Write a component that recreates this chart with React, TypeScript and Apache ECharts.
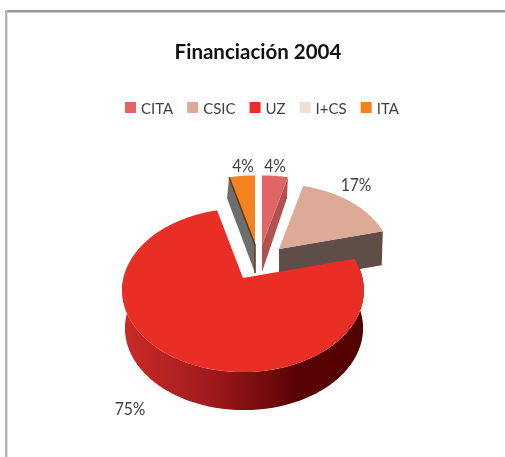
import React, { useEffect, useRef } from "react";
import * as echarts from "echarts";

const TITLE = "Financiación 2004";
const categories = ["CITA", "CSIC", "UZ", "I+CS", "ITA"];
const shares = [4, 17, 75, 0, 4];
const colors = ["#e06666", "#dcaa96", "#e92e26", "#eee0d5", "#f58220"];

const FONT = 'Lato, "Liberation Sans", sans-serif';
const RX = 119.5;
const RY = 80;
const PERSPECTIVE = 0.15;

type Layout = {
  tip: number[]; scale: number; z: number; depthTip: number; depthOuter: number;
  cut: "start" | "end" | "wall" | null; wall: string; label: number[]; edge?: string;
};
const layouts: Record<string, Layout> = {
  CITA: { tip: [262, 245], scale: 1, z: 3, depthTip: 27, depthOuter: 21, cut: "end", wall: "#b05050", label: [275, 165] },
  CSIC: { tip: [279, 249], scale: 0.93, z: 4, depthTip: 34, depthOuter: 34, cut: "end", wall: "#5f4d47", label: [356, 184] },
  UZ: { tip: [243, 278], scale: 1, z: 5, depthTip: 38, depthOuter: 38, cut: "wall", wall: "", label: [130, 408] },
  "I+CS": { tip: [255, 245], scale: 1, z: 1, depthTip: 0, depthOuter: 0, cut: null, wall: "", label: [0, 0] },
  ITA: { tip: [255, 245], scale: 1, z: 2, depthTip: 28, depthOuter: 21, cut: "start", wall: "#6e6e6e", label: [243, 165], edge: "#5c3a12" },
};

const total = shares.reduce((a, b) => a + b, 0);
const startAngles = shares.map((_, i) =>
  (shares.slice(0, i).reduce((a, b) => a + b, 0) / total) * Math.PI * 2);

function project(l: Layout, a: number, r = 1) {
  const x = Math.sin(a) * r;
  const y = Math.cos(a) * r;
  const w = 1 + PERSPECTIVE * y;
  return [l.tip[0] + (l.scale * RX * x) / w, l.tip[1] - (l.scale * RY * y) / w];
}

function arcPoints(l: Layout, a0: number, a1: number) {
  const n = Math.max(2, Math.ceil(Math.abs(a1 - a0) / 0.02));
  const pts: number[][] = [];
  for (let i = 0; i <= n; i++) pts.push(project(l, a0 + ((a1 - a0) * i) / n));
  return pts;
}

function renderSlice(index: number) {
  return (_params: any, api: any) => {
    const value = api.value(0);
    if (!value) return { type: "group", children: [] };
    const name = categories[index];
    const l = layouts[name];
    const a0 = startAngles[index];
    const a1 = a0 + (value / total) * Math.PI * 2;
    const children: any[] = [];

    if (l.cut === "wall") {
      const from = Math.max(a0, Math.PI * 0.44);
      const to = Math.min(a1, Math.PI * 1.56);
      const top = arcPoints(l, from, to);
      const bottom = top
        .map((p) => [l.tip[0] + 1 + (p[0] - l.tip[0]) * 0.985, p[1] + l.depthOuter])
        .reverse();
      children.push({
        type: "polygon",
        shape: { points: top.concat(bottom) },
        style: {
          fill: new echarts.graphic.LinearGradient(0, 0, 1, 0, [
            { offset: 0, color: "#cb2b27" },
            { offset: 0.35, color: "#a31a1e" },
            { offset: 0.72, color: "#5a0304" },
            { offset: 1, color: "#520000" },
          ]),
        },
      });
    } else if (l.cut) {
      const outer = project(l, l.cut === "end" ? a1 : a0);
      children.push({
        type: "polygon",
        shape: {
          points: [l.tip, outer, [outer[0] - (l.cut === "end" ? 1 : 2), outer[1] + l.depthOuter], [l.tip[0], l.tip[1] + l.depthTip]],
        },
        style: { fill: l.wall },
      });
    }

    children.push({
      type: "polygon",
      shape: { points: [l.tip].concat(arcPoints(l, a0, a1)) },
      style: { fill: colors[index] },
    });

    if (l.edge) {
      children.push({
        type: "polyline",
        shape: { points: [project(l, a0), l.tip, [l.tip[0], l.tip[1] + l.depthTip]] },
        style: { stroke: l.edge, lineWidth: 1.5, fill: "none" },
      });
    }

    children.push({
      type: "text",
      x: l.label[0],
      y: l.label[1],
      scaleX: 0.87,
      style: {
        text: Math.round((value / total) * 100) + "%",
        x: 0, y: 0,
        align: "center", verticalAlign: "middle",
        font: "18px " + FONT, fill: "#404040",
      },
    });
    return { type: "group", children };
  };
}

export default function App() {
  const ref = useRef<HTMLDivElement>(null);
  useEffect(() => {
    document.body.style.margin = "0";
    const chart = echarts.init(ref.current!, undefined, { renderer: "svg" });
    chart.setOption({
      animation: false,
      backgroundColor: "#ffffff",
      title: {
        text: TITLE, left: 253, top: 35, textAlign: "center",
        textStyle: { fontFamily: FONT, fontSize: 20.5, fontWeight: "bold", color: "#111111" },
      },
      legend: {
        data: categories, left: 120, top: 95, icon: "rect",
        itemWidth: 11, itemHeight: 11, itemGap: 14,
        textStyle: { fontFamily: FONT, fontSize: 15, color: "#404040" },
      },
      graphic: [
        { type: "rect", silent: true, shape: { x: 5, y: 10, width: 500, height: 2.5 }, style: { fill: "#9a9a9a" } },
        { type: "rect", silent: true, shape: { x: 5, y: 10, width: 2.5, height: 447 }, style: { fill: "#b4b8ba" } },
      ],
      series: categories.map((name, i) => ({
        type: "custom",
        name,
        coordinateSystem: "none",
        z: layouts[name].z,
        silent: true,
        itemStyle: { color: colors[i] },
        data: [[shares[i]]],
        renderItem: renderSlice(i),
      })),
    });
    return () => chart.dispose();
  }, []);
  return <div ref={ref} style={{ width: 505, height: 457, filter: "blur(0.4px)" }} />;
}
